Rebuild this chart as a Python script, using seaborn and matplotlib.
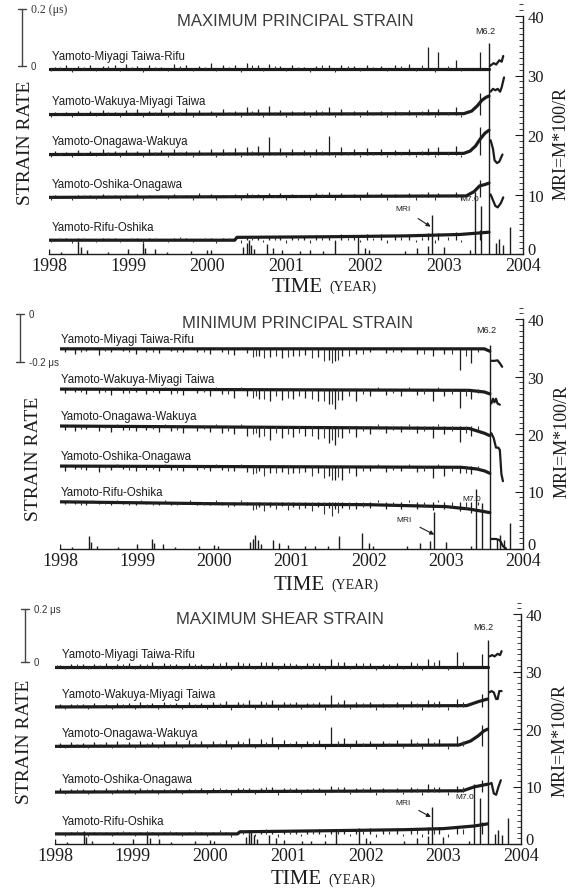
import numpy as np
import pandas as pd
import matplotlib
matplotlib.use("Agg")
import matplotlib.pyplot as plt
import matplotlib.transforms as mtransforms
from matplotlib.ticker import MultipleLocator
import seaborn as sns

sns.set_theme(style="white")
plt.rcParams["font.family"] = ["Liberation Sans", "DejaVu Sans"]
SERIF = ["Liberation Serif", "DejaVu Serif"]
INK = "#1c1c1c"

# ---------------------------------------------------------------- data
YEARS = [1998, 1999, 2000, 2001, 2002, 2003, 2004]
MRI_TICKS = [0, 10, 20, 30, 40]
STATIONS = ["Yamoto-Miyagi Taiwa-Rifu", "Yamoto-Wakuya-Miyagi Taiwa",
            "Yamoto-Onagawa-Wakuya", "Yamoto-Oshika-Onagawa", "Yamoto-Rifu-Oshika"]
TITLES = ["MAXIMUM PRINCIPAL STRAIN", "MINIMUM PRINCIPAL STRAIN", "MAXIMUM SHEAR STRAIN"]

# earthquake index MRI = M*100/R
EQ_T = [1998.00, 1998.15, 1998.37, 1998.40, 1998.48, 1998.75, 1999.00, 1999.19, 1999.22,
        1999.34, 1999.49, 1999.80, 2000.00, 2000.05, 2000.46, 2000.50, 2000.53, 2000.56,
        2000.60, 2000.76, 2000.84, 2000.95, 2001.18, 2001.30, 2001.47, 2001.62, 2001.91,
        2002.00, 2002.05, 2002.50, 2002.66, 2002.80, 2002.85, 2003.00, 2003.33, 2003.39,
        2003.47, 2003.57, 2003.66, 2003.70, 2003.75, 2003.83]
EQ_MRI = [0.8, 0.4, 2.2, 1.2, 0.6, 0.3, 0.9, 1.8, 1.0, 0.8, 0.4, 0.5, 0.7, 0.6, 1.2, 1.8,
          2.4, 1.5, 0.8, 1.6, 1.0, 0.7, 0.5, 0.6, 0.5, 2.2, 2.8, 1.0, 0.6, 0.5, 1.0, 1.4,
          6.5, 1.2, 0.6, 10.5, 8.0, 35.5, 1.8, 2.5, 1.5, 4.5]

# trace offsets (micro-strain) on the strain-rate axis
p1_off = [-0.01, -0.17, -0.31, -0.46, -0.61]
p2_off = [-0.146, -0.314, -0.468, -0.635, -0.784]
p3_off = [-0.02, -0.171, -0.32, -0.493, -0.651]

# ---- maximum principal strain
p1_pre_t = [[1998.0, 2003.57],
            [1998.0, 2003.25, 2003.35, 2003.42, 2003.48, 2003.53, 2003.57],
            [1998.0, 2003.25, 2003.33, 2003.40, 2003.46, 2003.52, 2003.57],
            [1998.0, 2003.28, 2003.38, 2003.45, 2003.52, 2003.57],
            [1998.0, 2000.35, 2000.38, 2001.5, 2002.5, 2003.2, 2003.57]]
p1_pre_v = [[0.0, 0.0],
            [0.0, 0.003, 0.012, 0.03, 0.05, 0.06, 0.065],
            [0.0, 0.004, 0.012, 0.03, 0.055, 0.075, 0.085],
            [0.0, 0.005, 0.02, 0.04, 0.045, 0.05],
            [0.0, 0.0, 0.01, 0.012, 0.015, 0.02, 0.028]]
p1_post_t = [[2003.58, 2003.63, 2003.66, 2003.70, 2003.73, 2003.75],
             [2003.59, 2003.62, 2003.65, 2003.68, 2003.71, 2003.73, 2003.76],
             [2003.59, 2003.62, 2003.64, 2003.67, 2003.70, 2003.74],
             [2003.59, 2003.62, 2003.65, 2003.68, 2003.72, 2003.75],
             []]
p1_post_v = [[0.01, 0.02, 0.015, 0.03, 0.025, 0.045],
             [0.08, 0.09, 0.085, 0.09, 0.08, 0.095, 0.13],
             [0.05, 0.02, -0.02, -0.03, -0.025, 0.0],
             [0.01, -0.01, -0.03, -0.035, -0.02, 0.0],
             []]
p1_spk_t = [1998.08, 1998.22, 1998.37, 1998.52, 1998.68, 1998.83, 1998.97, 1999.12, 1999.27,
            1999.42, 1999.58, 1999.74, 1999.9, 2000.05, 2000.2, 2000.36, 2000.5, 2000.64,
            2000.78, 2000.93, 2001.08, 2001.23, 2001.38, 2001.55, 2001.7, 2001.86, 2002.02,
            2002.2, 2002.38, 2002.56, 2002.8, 2002.92, 2003.15, 2003.45]
p1_spk_a = [
    [0.008, 0.012, 0.01, 0.015, 0.009, 0.012, 0.018, 0.01, 0.014, 0.008, 0.016, 0.012, 0.01,
     0.02, 0.012, 0.015, 0.022, 0.014, 0.018, 0.01, 0.012, 0.008, 0.01, 0.015, 0.012, 0.01,
     0.014, 0.01, 0.012, 0.016, 0.075, 0.06, 0.03, 0.06],
    [0.01, 0.008, 0.014, 0.012, 0.016, 0.01, 0.015, 0.02, 0.012, 0.018, 0.014, 0.022, 0.016,
     0.012, 0.018, 0.014, 0.025, 0.02, 0.03, 0.016, 0.014, 0.012, 0.015, 0.028, 0.018, 0.014,
     0.016, 0.012, 0.014, 0.016, 0.018, 0.02, 0.025, 0.075],
    [0.012, 0.01, 0.015, 0.012, 0.018, 0.014, 0.016, 0.012, 0.02, 0.015, 0.018, 0.014, 0.016,
     0.02, 0.018, 0.022, 0.025, 0.03, 0.06, 0.022, 0.018, 0.016, 0.02, 0.065, 0.025, 0.02,
     0.022, 0.018, 0.016, 0.02, 0.022, 0.025, 0.03, 0.095],
    [0.008, 0.006, 0.01, 0.008, 0.012, 0.01, 0.008, 0.012, 0.01, 0.008, 0.012, 0.01, 0.014,
     0.012, 0.01, 0.012, 0.014, 0.012, 0.016, 0.014, 0.012, 0.01, 0.014, 0.018, 0.015, 0.012,
     0.018, 0.014, 0.012, 0.015, 0.018, 0.016, 0.02, 0.06],
    [0.005, 0.006, 0.008, 0.005, 0.006, 0.007, 0.005, 0.008, 0.006, 0.005, 0.007, 0.006, 0.005,
     0.008, 0.006, 0.012, 0.014, 0.01, 0.012, 0.014, 0.016, 0.014, 0.018, 0.016, 0.02, 0.018,
     0.02, 0.022, 0.018, 0.022, 0.025, 0.024, 0.028, 0.035]]
# small daily wiggles shared by the five traces of a panel
p1_jit_t = [1998.03, 1998.14, 1998.29, 1998.44, 1998.6, 1998.75, 1998.9, 1999.05, 1999.19,
            1999.34, 1999.5, 1999.66, 1999.82, 1999.97, 2000.12, 2000.28, 2000.43, 2000.57,
            2000.71, 2000.86, 2001.0, 2001.15, 2001.3, 2001.46, 2001.62, 2001.78, 2001.94,
            2002.1, 2002.28, 2002.46, 2002.64, 2002.72, 2002.88, 2003.05, 2003.22]
p1_jit_a = [-0.008, 0.006, -0.01, 0.007, -0.006, 0.009, -0.008, 0.006, -0.01, 0.008, -0.007,
            0.01, -0.008, 0.007, -0.009, 0.008, -0.01, 0.012, -0.008, 0.01, -0.009, 0.008,
            -0.01, 0.012, -0.01, 0.009, -0.008, 0.007, -0.009, 0.01, -0.008, 0.012, -0.01,
            0.01, -0.008]

# ---- minimum principal strain
p2_pre_t = [[1998.0, 2003.5, 2003.57],
            [1998.0, 2003.3, 2003.5, 2003.57],
            [1998.0, 2003.3, 2003.5, 2003.57],
            [1998.0, 2003.2, 2003.4, 2003.5, 2003.57],
            [1998.0, 1999.0, 2000.0, 2001.0, 2002.0, 2003.0, 2003.3, 2003.57]]
p2_pre_v = [[0.0, 0.0, -0.01],
            [0.0, -0.005, -0.012, -0.02],
            [0.0, -0.01, -0.03, -0.04],
            [0.0, -0.005, -0.012, -0.02, -0.03],
            [0.0, -0.004, -0.008, -0.01, -0.012, -0.02, -0.03, -0.045]]
p2_post_t = [[2003.59, 2003.63, 2003.67, 2003.70, 2003.73],
             [2003.59, 2003.61, 2003.63, 2003.65, 2003.67, 2003.70],
             [2003.59, 2003.62, 2003.65, 2003.68, 2003.70, 2003.72, 2003.74],
             [],
             [2003.59, 2003.65, 2003.70, 2003.74, 2003.78]]
p2_post_v = [[-0.05, -0.05, -0.048, -0.06, -0.075],
             [-0.06, -0.04, -0.055, -0.04, -0.06, -0.065],
             [-0.03, -0.05, -0.09, -0.09, -0.1, -0.2, -0.23],
             [],
             [-0.155, -0.155, -0.16, -0.185, -0.195]]
p2_spk_t = [1998.06, 1998.2, 1998.34, 1998.5, 1998.66, 1998.82, 1998.98, 1999.12, 1999.28,
            1999.44, 1999.6, 1999.78, 1999.94, 2000.1, 2000.26, 2000.42, 2000.58, 2000.72,
            2000.88, 2001.02, 2001.18, 2001.34, 2001.48, 2001.56, 2001.66, 2001.84, 2002.02,
            2002.22, 2002.42, 2002.62, 2002.83, 2002.97, 2003.18, 2003.32]
p2_spk_a = [
    [-0.012, -0.02, -0.01, -0.025, -0.015, -0.01, -0.02, -0.012, -0.018, -0.01, -0.015, -0.012,
     -0.02, -0.015, -0.025, -0.018, -0.03, -0.035, -0.04, -0.03, -0.025, -0.035, -0.045, -0.05,
     -0.03, -0.02, -0.015, -0.018, -0.012, -0.02, -0.03, -0.02, -0.09, -0.06],
    [-0.015, -0.01, -0.02, -0.015, -0.025, -0.018, -0.012, -0.022, -0.015, -0.02, -0.025, -0.018,
     -0.03, -0.02, -0.035, -0.03, -0.04, -0.05, -0.045, -0.04, -0.035, -0.05, -0.06, -0.085,
     -0.045, -0.05, -0.03, -0.025, -0.03, -0.025, -0.05, -0.03, -0.08, -0.04],
    [-0.015, -0.02, -0.012, -0.02, -0.025, -0.015, -0.02, -0.018, -0.025, -0.02, -0.03, -0.02,
     -0.025, -0.03, -0.035, -0.04, -0.045, -0.06, -0.05, -0.045, -0.04, -0.055, -0.07, -0.08,
     -0.05, -0.045, -0.035, -0.03, -0.025, -0.03, -0.05, -0.035, -0.065, -0.04],
    [-0.02, -0.012, -0.015, -0.025, -0.015, -0.012, -0.02, -0.015, -0.02, -0.015, -0.02, -0.018,
     -0.02, -0.015, -0.02, -0.025, -0.02, -0.03, -0.025, -0.03, -0.025, -0.03, -0.04, -0.06,
     -0.06, -0.04, -0.02, -0.025, -0.02, -0.025, -0.05, -0.04, -0.03, -0.035],
    [-0.01, -0.008, -0.012, -0.01, -0.015, -0.01, -0.012, -0.01, -0.015, -0.012, -0.01, -0.015,
     -0.012, -0.015, -0.018, -0.015, -0.02, -0.022, -0.018, -0.02, -0.025, -0.022, -0.025, -0.03,
     -0.025, -0.028, -0.025, -0.03, -0.028, -0.03, -0.035, -0.032, -0.04, -0.045]]
p2_jit_t = [1998.12, 1998.27, 1998.42, 1998.58, 1998.74, 1998.9, 1999.05, 1999.2, 1999.36,
            1999.52, 1999.69, 1999.86, 2000.02, 2000.18, 2000.34, 2000.5, 2000.54, 2000.65,
            2000.8, 2000.95, 2001.1, 2001.26, 2001.42, 2001.52, 2001.6, 2001.75, 2001.93,
            2002.12, 2002.32, 2002.52, 2002.72, 2002.9, 2003.08, 2003.26, 2003.42]
p2_jit_a = [0.006, -0.012, 0.006, -0.01, 0.007, -0.015, 0.006, -0.012, 0.007, -0.015, 0.006,
            -0.012, 0.008, -0.02, 0.008, -0.035, -0.03, -0.04, -0.03, -0.035, -0.03, -0.04,
            -0.05, -0.06, -0.045, -0.03, -0.02, 0.008, -0.015, 0.008, -0.02, 0.008, -0.02,
            -0.03, -0.015]

# ---- maximum shear strain
p3_pre_t = [[1998.0, 2003.57],
            [1998.0, 2003.3, 2003.45, 2003.57],
            [1998.0, 2003.2, 2003.35, 2003.45, 2003.52, 2003.57],
            [1998.0, 2003.25, 2003.4, 2003.57],
            [1998.0, 2000.35, 2000.38, 2001.5, 2002.5, 2003.0, 2003.4, 2003.57]]
p3_pre_v = [[0.0, 0.0],
            [0.0, 0.005, 0.02, 0.03],
            [0.0, 0.005, 0.02, 0.04, 0.058, 0.065],
            [0.0, 0.005, 0.02, 0.03],
            [0.0, 0.0, 0.008, 0.012, 0.016, 0.02, 0.03, 0.038]]
p3_post_t = [[2003.59, 2003.63, 2003.66, 2003.70, 2003.73, 2003.75],
             [2003.59, 2003.62, 2003.65, 2003.68, 2003.70, 2003.72, 2003.75],
             [],
             [2003.59, 2003.62, 2003.65, 2003.68, 2003.71, 2003.74],
             []]
p3_post_v = [[0.04, 0.045, 0.04, 0.05, 0.045, 0.06],
             [0.055, 0.06, 0.055, 0.03, 0.03, 0.06, 0.06],
             [],
             [0.03, 0.035, -0.005, -0.01, 0.02, 0.045],
             []]
p3_spk_t = [1998.07, 1998.21, 1998.36, 1998.5, 1998.66, 1998.8, 1998.95, 1999.1, 1999.25,
            1999.4, 1999.56, 1999.72, 1999.88, 2000.04, 2000.2, 2000.35, 2000.5, 2000.65,
            2000.8, 2000.95, 2001.1, 2001.25, 2001.4, 2001.56, 2001.72, 2001.88, 2002.05,
            2002.22, 2002.4, 2002.58, 2002.8, 2002.95, 2003.17, 2003.5]
p3_spk_a = [
    [0.008, 0.01, 0.012, 0.01, 0.014, 0.012, 0.015, 0.012, 0.018, 0.014, 0.012, 0.016, 0.012,
     0.015, 0.02, 0.018, 0.016, 0.02, 0.018, 0.015, 0.012, 0.014, 0.016, 0.03, 0.02, 0.015,
     0.014, 0.012, 0.015, 0.02, 0.03, 0.025, 0.057, 0.05],
    [0.01, 0.012, 0.01, 0.015, 0.012, 0.016, 0.014, 0.018, 0.015, 0.02, 0.016, 0.018, 0.015,
     0.02, 0.022, 0.018, 0.025, 0.022, 0.028, 0.02, 0.018, 0.016, 0.02, 0.045, 0.025, 0.02,
     0.018, 0.016, 0.02, 0.022, 0.025, 0.022, 0.03, 0.05],
    [0.012, 0.015, 0.012, 0.018, 0.015, 0.02, 0.016, 0.02, 0.018, 0.022, 0.02, 0.024, 0.02,
     0.022, 0.025, 0.022, 0.03, 0.028, 0.035, 0.025, 0.022, 0.02, 0.025, 0.072, 0.03, 0.025,
     0.022, 0.02, 0.025, 0.028, 0.03, 0.028, 0.04, 0.08],
    [0.015, 0.01, 0.012, 0.01, 0.014, 0.012, 0.01, 0.014, 0.012, 0.01, 0.014, 0.012, 0.016,
     0.014, 0.012, 0.014, 0.016, 0.014, 0.018, 0.016, 0.014, 0.012, 0.016, 0.025, 0.018, 0.016,
     0.018, 0.016, 0.014, 0.018, 0.03, 0.02, 0.022, 0.045],
    [0.005, 0.006, 0.008, 0.006, 0.007, 0.006, 0.008, 0.006, 0.007, 0.006, 0.008, 0.007, 0.006,
     0.008, 0.007, 0.01, 0.014, 0.012, 0.014, 0.015, 0.016, 0.016, 0.018, 0.02, 0.018, 0.02,
     0.022, 0.02, 0.022, 0.024, 0.026, 0.025, 0.03, 0.045]]
p3_jit_t = [1998.02, 1998.13, 1998.28, 1998.43, 1998.58, 1998.73, 1998.88, 1999.03, 1999.18,
            1999.33, 1999.48, 1999.64, 1999.8, 1999.96, 2000.12, 2000.27, 2000.42, 2000.57,
            2000.72, 2000.87, 2001.02, 2001.17, 2001.32, 2001.48, 2001.64, 2001.8, 2001.96,
            2002.13, 2002.3, 2002.48, 2002.66, 2002.73, 2002.88, 2003.06, 2003.25]
p3_jit_a = [0.006, -0.008, 0.01, -0.006, 0.008, -0.008, 0.01, -0.007, 0.012, -0.008, 0.01,
            -0.006, 0.012, -0.008, 0.014, -0.01, 0.016, -0.008, 0.018, -0.01, 0.014, -0.008,
            0.016, -0.01, 0.02, -0.008, 0.014, -0.01, 0.012, -0.008, 0.015, -0.01, 0.018,
            -0.01, 0.02]

# ---------------------------------------------------------------- layout
W, H = 576, 895
fig = plt.figure(figsize=(W / 100, H / 100), dpi=100)


def px_rect(x0, x1, ytop, ybot):
    return [x0 / W, 1 - ybot / H, (x1 - x0) / W, (ybot - ytop) / H]


def fx(x):
    return x / W


def fy(y):
    return 1 - y / H


panels = [
    dict(box=(49, 523, 5.1, 255), zero=31.6, upu=48.0, off=p1_off,
         pre_t=p1_pre_t, pre_v=p1_pre_v, post_t=p1_post_t, post_v=p1_post_v,
         spk_t=p1_spk_t, spk_a=p1_spk_a, jit_t=p1_jit_t, jit_a=p1_jit_a,
         lab_dy=0.046, lab_x=1998.04,
         bar_x=22, bar=(0.2, "0.2 (\u03bcs)", "0"), bar_serif=True,
         title_xy=(295, 22), rate_xy=(26, 143), mri_xy=(561, 143),
         time_y=287, time_x=323,
         m62=(2003.52, 37.6), m70=(2003.33, 9.3), mri_txt=(2002.48, 7.6), mri_tip=(2002.83, 4.6)),
    dict(box=(60, 523, 308.5, 550), zero=40.9, upu=41.7, off=p2_off,
         pre_t=p2_pre_t, pre_v=p2_pre_v, post_t=p2_post_t, post_v=p2_post_v,
         spk_t=p2_spk_t, spk_a=p2_spk_a, jit_t=p2_jit_t, jit_a=p2_jit_a,
         lab_dy=0.042, lab_x=1998.01,
         bar_x=20, bar=(-0.2, "-0.2 \u03bcs", "0"), bar_serif=False,
         title_xy=(298, 323), rate_xy=(33, 459), mri_xy=(562, 442),
         time_y=585, time_x=325,
         m62=(2003.53, 38.2), m70=(2003.34, 8.7), mri_txt=(2002.46, 5.2), mri_tip=(2002.85, 2.5)),
    dict(box=(55, 521, 603.5, 845), zero=31.7, upu=46.0, off=p3_off,
         pre_t=p3_pre_t, pre_v=p3_pre_v, post_t=p3_post_t, post_v=p3_post_v,
         spk_t=p3_spk_t, spk_a=p3_spk_a, jit_t=p3_jit_t, jit_a=p3_jit_a,
         lab_dy=0.049, lab_x=1998.09,
         bar_x=25, bar=(0.2, "0.2 \u03bcs", "0"), bar_serif=False,
         title_xy=(280, 620), rate_xy=(25, 742), mri_xy=(560, 741),
         time_y=880, time_x=322,
         m62=(2003.51, 37.8), m70=(2003.28, 8.3), mri_txt=(2002.48, 7.3), mri_tip=(2002.84, 4.7)),
]

for i, p in enumerate(panels):
    ax = fig.add_axes(px_rect(*p["box"]))
    axr = ax.twinx()

    # strain-rate traces
    for k in range(5):
        off = p["off"][k]
        pre = pd.DataFrame({"t": p["pre_t"][k], "v": [off + v for v in p["pre_v"][k]]})
        sns.lineplot(data=pre, x="t", y="v", ax=ax, color=INK, lw=2.3,
                     estimator=None, sort=False)
        if p["post_t"][k]:
            post = pd.DataFrame({"t": p["post_t"][k], "v": [off + v for v in p["post_v"][k]]})
            sns.lineplot(data=post, x="t", y="v", ax=ax, color=INK, lw=1.6,
                         estimator=None, sort=False)
        ax.vlines(p["spk_t"], off, [off + a for a in p["spk_a"][k]], color=INK, lw=0.9)
        ax.vlines(p["jit_t"], off, [off + a for a in p["jit_a"]], color="#333333", lw=0.8)
        ax.text(p["lab_x"], off + p["lab_dy"], STATIONS[k], fontsize=8.3, color=INK,
                ha="left", va="center")

    ax.set_xlim(1998, 2004)
    ax.set_ylim(-p["zero"] / p["upu"], (42 - p["zero"]) / p["upu"])
    ax.set_xlabel("")
    ax.set_ylabel("")
    ax.set_yticks([])
    ax.set_xticks(YEARS)
    ax.set_xticklabels([str(y) for y in YEARS], fontfamily=SERIF, fontsize=13, color=INK)
    ax.tick_params(axis="x", direction="in", length=3, width=0.8, pad=2, color=INK)
    for s in ("top", "left", "right"):
        ax.spines[s].set_visible(False)
    ax.spines["bottom"].set_color(INK)
    ax.spines["bottom"].set_linewidth(1.0)

    # scale bar for strain rate
    tr = mtransforms.blended_transform_factory(ax.transAxes, ax.transData)
    x0, x1 = p["box"][0], p["box"][1]
    xb = (p["bar_x"] - x0) / (x1 - x0)
    dx = 4 / (x1 - x0)
    top, lab_top, lab_zero = p["bar"]
    ax.plot([xb, xb], [0, top], transform=tr, clip_on=False, color="#444", lw=1.0)
    for yv in (0, top):
        ax.plot([xb - dx, xb + dx], [yv, yv], transform=tr, clip_on=False, color="#444", lw=1.0)
    fam = SERIF if p["bar_serif"] else ["Liberation Sans", "DejaVu Sans"]
    ax.text(xb + 2.2 * dx, top, lab_top, transform=tr, fontsize=8.5 if p["bar_serif"] else 7,
            family=fam, va="center", ha="left", color="#333")
    ax.text(xb + 2.2 * dx, 0, lab_zero, transform=tr, fontsize=7, va="center", ha="left",
            color="#333")

    # MRI earthquake index
    axr.vlines(EQ_T, 0, EQ_MRI, color=INK, lw=1.0)
    axr.set_ylim(0, 42)
    axr.set_yticks(MRI_TICKS)
    axr.set_yticklabels([str(v) for v in MRI_TICKS], fontfamily=SERIF, fontsize=12, color=INK)
    axr.yaxis.set_minor_locator(MultipleLocator(1))
    axr.tick_params(axis="y", which="major", direction="in", length=6, width=0.8, pad=3,
                    color=INK, right=True)
    axr.tick_params(axis="y", which="minor", direction="in", length=3, width=0.6,
                    color=INK, right=True)
    # lift the "0" a little so it sits just above the year labels
    zero_lab = axr.get_yticklabels()[0]
    zero_lab.set_verticalalignment("bottom")
    zero_lab.set_y(0)
    zero_lab.set_transform(zero_lab.get_transform()
                           + mtransforms.ScaledTranslation(0, -3 / 72, fig.dpi_scale_trans))
    for s in ("top", "left", "bottom"):
        axr.spines[s].set_visible(False)
    axr.spines["right"].set_bounds(0, 40)
    axr.spines["right"].set_color(INK)
    axr.spines["right"].set_linewidth(1.0)

    axr.text(*p["m62"], "M6.2", fontsize=6.5, ha="center", va="center", color=INK)
    axr.text(*p["m70"], "M7.0", fontsize=6, ha="center", va="center", color=INK)
    axr.annotate("MRI", xy=p["mri_tip"], xytext=p["mri_txt"], fontsize=6, ha="center",
                 va="center", color=INK,
                 arrowprops=dict(arrowstyle="-|>", lw=0.8, color=INK, mutation_scale=6,
                                 shrinkA=4, shrinkB=0))

    # panel texts
    fig.text(fx(p["title_xy"][0]), fy(p["title_xy"][1]), TITLES[i], fontsize=12,
             ha="center", va="center", color="#3a3a3a")
    fig.text(fx(p["rate_xy"][0]), fy(p["rate_xy"][1]), "STRAIN RATE", rotation=90,
             family=SERIF, fontsize=14, ha="center", va="center", color=INK)
    fig.text(fx(p["mri_xy"][0]), fy(p["mri_xy"][1]), "MRI=M*100/R", rotation=90,
             family=SERIF, fontsize=13, ha="center", va="center", color=INK)
    fig.text(fx(p["time_x"]), fy(p["time_y"]), "TIME", family=SERIF, fontsize=15,
             ha="right", va="center", color=INK)
    fig.text(fx(p["time_x"] + 6), fy(p["time_y"]), "(YEAR)", family=SERIF, fontsize=10,
             ha="left", va="center", color=INK)

fig.savefig("out.png", dpi=100)
